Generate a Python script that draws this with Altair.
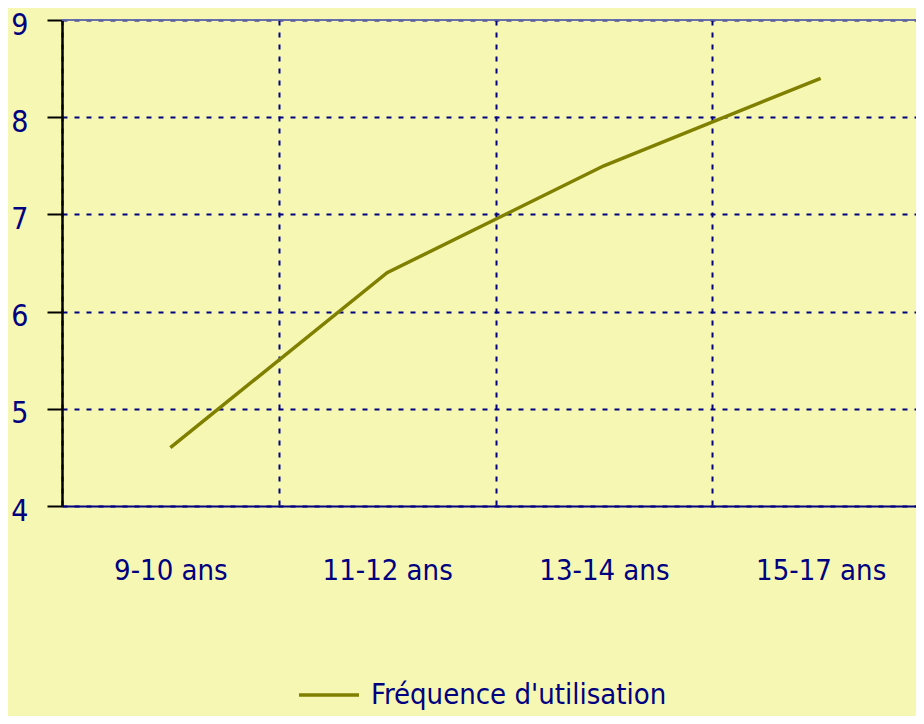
import altair as alt
import pandas as pd

categories = ["9-10 ans", "11-12 ans", "13-14 ans", "15-17 ans"]
values = [4.6, 6.4, 7.5, 8.4]
series_name = "Fréquence d'utilisation"
y_ticks = [4, 5, 6, 7, 8, 9]

df = pd.DataFrame({"age": categories, "freq": values, "serie": [series_name] * len(categories)})

FONT = "DejaVu Sans Condensed"
NAVY = "#000080"
OLIVE = "#808000"
BG = "#F7F7B4"
FS = 29

base = alt.Chart(df)

line = base.mark_line(strokeWidth=3.5).encode(
    x=alt.X(
        "age:N",
        sort=categories,
        scale=alt.Scale(type="band", paddingInner=0, paddingOuter=0, range=[0, 867]),
        axis=alt.Axis(
            title=None, labelAngle=0, ticks=False, tickBand="extent", grid=True,
            gridColor=NAVY, gridWidth=2, gridDash=[5, 7],
            labelPadding=50, labelFontSize=FS, labelFont=FONT, labelColor=NAVY,
            domainColor=NAVY, domainWidth=2,
        ),
    ),
    y=alt.Y(
        "freq:Q",
        scale=alt.Scale(domain=[4, 9], nice=False, zero=False),
        axis=alt.Axis(
            values=y_ticks, title=None, grid=True, gridColor=NAVY, gridWidth=2,
            gridDash=[5, 7], tickColor="black", tickWidth=2, tickSize=15,
            labelPadding=19, labelFontSize=FS + 1, labelFont=FONT, labelColor=NAVY,
            labelOffset=5, domainColor="black", domainWidth=2.5, format="d",
        ),
    ),
    color=alt.Color(
        "serie:N",
        scale=alt.Scale(range=[OLIVE]),
        legend=alt.Legend(
            title=None, orient="none", legendX=235, legendY=643,
            symbolType="stroke", symbolSize=3600, symbolStrokeWidth=3.5,
            labelFontSize=FS, labelFont=FONT, labelColor=NAVY, labelOffset=10,
            labelLimit=500,
        ),
    ),
)

top_edge = base.mark_rule(color="#6068a8", strokeWidth=1).encode(
    y=alt.datum(9.0)
)

chart = alt.layer(top_edge, line).properties(
    width=854,
    height=486,
    background=BG,
    padding={"left": 54, "top": 12, "right": 0, "bottom": 210},
    autosize="none",
).configure_view(stroke=None)

chart.save("out.html", embed_options={"renderer": "svg", "actions": False})
